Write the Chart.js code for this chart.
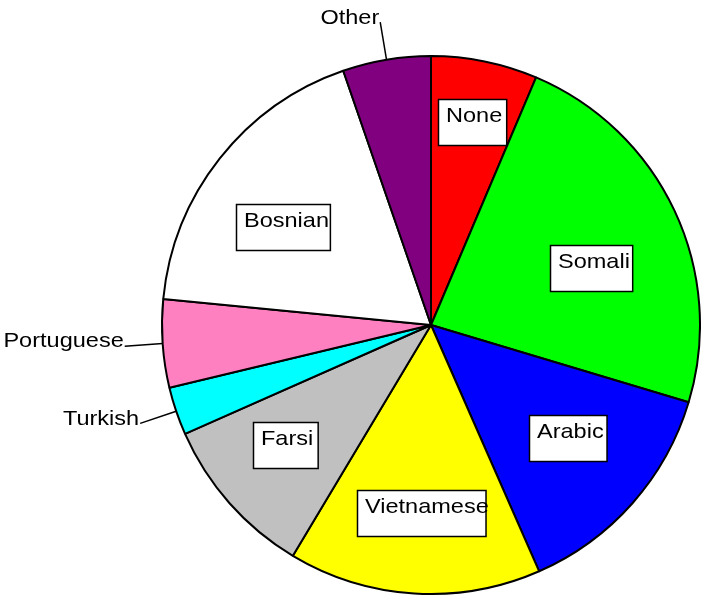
<!DOCTYPE html>
<html><head><meta charset="utf-8">
<script src="https://cdn.jsdelivr.net/npm/chart.js@4"></script>
<style>html,body{margin:0;padding:0;background:#fff}#wrap{width:701px;height:597px;position:relative}</style>
</head><body><div id="wrap"><canvas id="c"></canvas></div>
<script>
const categories = ['None','Somali','Arabic','Vietnamese','Farsi','Turkish','Portuguese','Bosnian','Other'];
const shares = [6.4, 23.3, 13.8, 15.2, 9.8, 2.9, 5.3, 18.2, 5.3];
const sliceColors = ['#FF0000','#00FF00','#0000FF','#FFFF00','#C0C0C0','#00FFFF','#FF80C0','#FFFFFF','#800080'];
const outsideLabels = ['Turkish','Portuguese','Other'];

function stretchedText(ctx, text, x, y, align, sx){
  ctx.save();
  ctx.translate(x, y);
  ctx.scale(sx, 1);
  ctx.textAlign = align;
  ctx.textBaseline = 'middle';
  ctx.fillText(text, 0, 0);
  ctx.restore();
}

const boxLabels = {
  id: 'boxLabels',
  afterDatasetsDraw(chart, args, opts){
    const ctx = chart.ctx;
    const meta = chart.getDatasetMeta(0);
    ctx.save();
    ctx.font = opts.font;
    ctx.fillStyle = '#000';
    meta.data.forEach((arc, i) => {
      const p = arc.getProps(['x','y','startAngle','endAngle','outerRadius'], true);
      const label = chart.data.labels[i];
      const tune = opts.tune[label] || {};
      const mid = (p.startAngle + p.endAngle) / 2 + (tune.da || 0) * Math.PI / 180;
      const cos = Math.cos(mid), sin = Math.sin(mid);
      if (opts.outside.includes(label)) {
        const r0 = p.outerRadius, r1 = p.outerRadius + opts.leader;
        const x0 = p.x + cos*r0, y0 = p.y + sin*r0;
        const x1 = p.x + cos*r1, y1 = p.y + sin*r1;
        ctx.strokeStyle = '#000'; ctx.lineWidth = 1.5;
        ctx.beginPath(); ctx.moveTo(x0, y0); ctx.lineTo(x1, y1); ctx.stroke();
        ctx.fillStyle = '#000';
        stretchedText(ctx, label, x1 - 1, y1 - 4.5, 'right', opts.stretch);
      } else {
        const rf = tune.r || opts.r;
        const cx = p.x + cos*p.outerRadius*rf, cy = p.y + sin*p.outerRadius*rf;
        const w = ctx.measureText(label).width + 18, h = 46;
        const bx = Math.round(cx - w/2) + 0.5, by = Math.round(cy - h/2) + 0.5;
        ctx.fillStyle = '#fff';
        ctx.fillRect(bx, by, w, h);
        ctx.strokeStyle = '#000'; ctx.lineWidth = 1.5;
        ctx.strokeRect(bx, by, w, h);
        ctx.fillStyle = '#000';
        stretchedText(ctx, label, bx + 7.5, by + 17, 'left', opts.stretch);
      }
    });
    ctx.restore();
  }
};

new Chart(document.getElementById('c'), {
  type: 'pie',
  data: {
    labels: categories,
    datasets: [{
      data: shares,
      backgroundColor: sliceColors,
      borderColor: '#000',
      borderWidth: 2
    }]
  },
  options: {
    responsive: true,
    maintainAspectRatio: false,
    animation: false,
    layout: { padding: { top: 55, bottom: 2, left: 161, right: 0 } },
    plugins: {
      legend: { display: false },
      tooltip: { enabled: false },
      boxLabels: {
        font: '21px "Liberation Sans", Arial, sans-serif',
        stretch: 1.12,
        r: 0.68,
        leader: 38,
        outside: outsideLabels,
        tune: {
          None: { r: 0.77 },
          Somali: { r: 0.63, da: 5.5 },
          Arabic: { r: 0.66, da: -2 },
          Vietnamese: { r: 0.70, da: -0.5 },
          Farsi: { r: 0.70, da: 2 },
          Bosnian: { r: 0.66, da: -4.6 }
        }
      }
    }
  },
  plugins: [boxLabels]
});
</script>
</body></html>
